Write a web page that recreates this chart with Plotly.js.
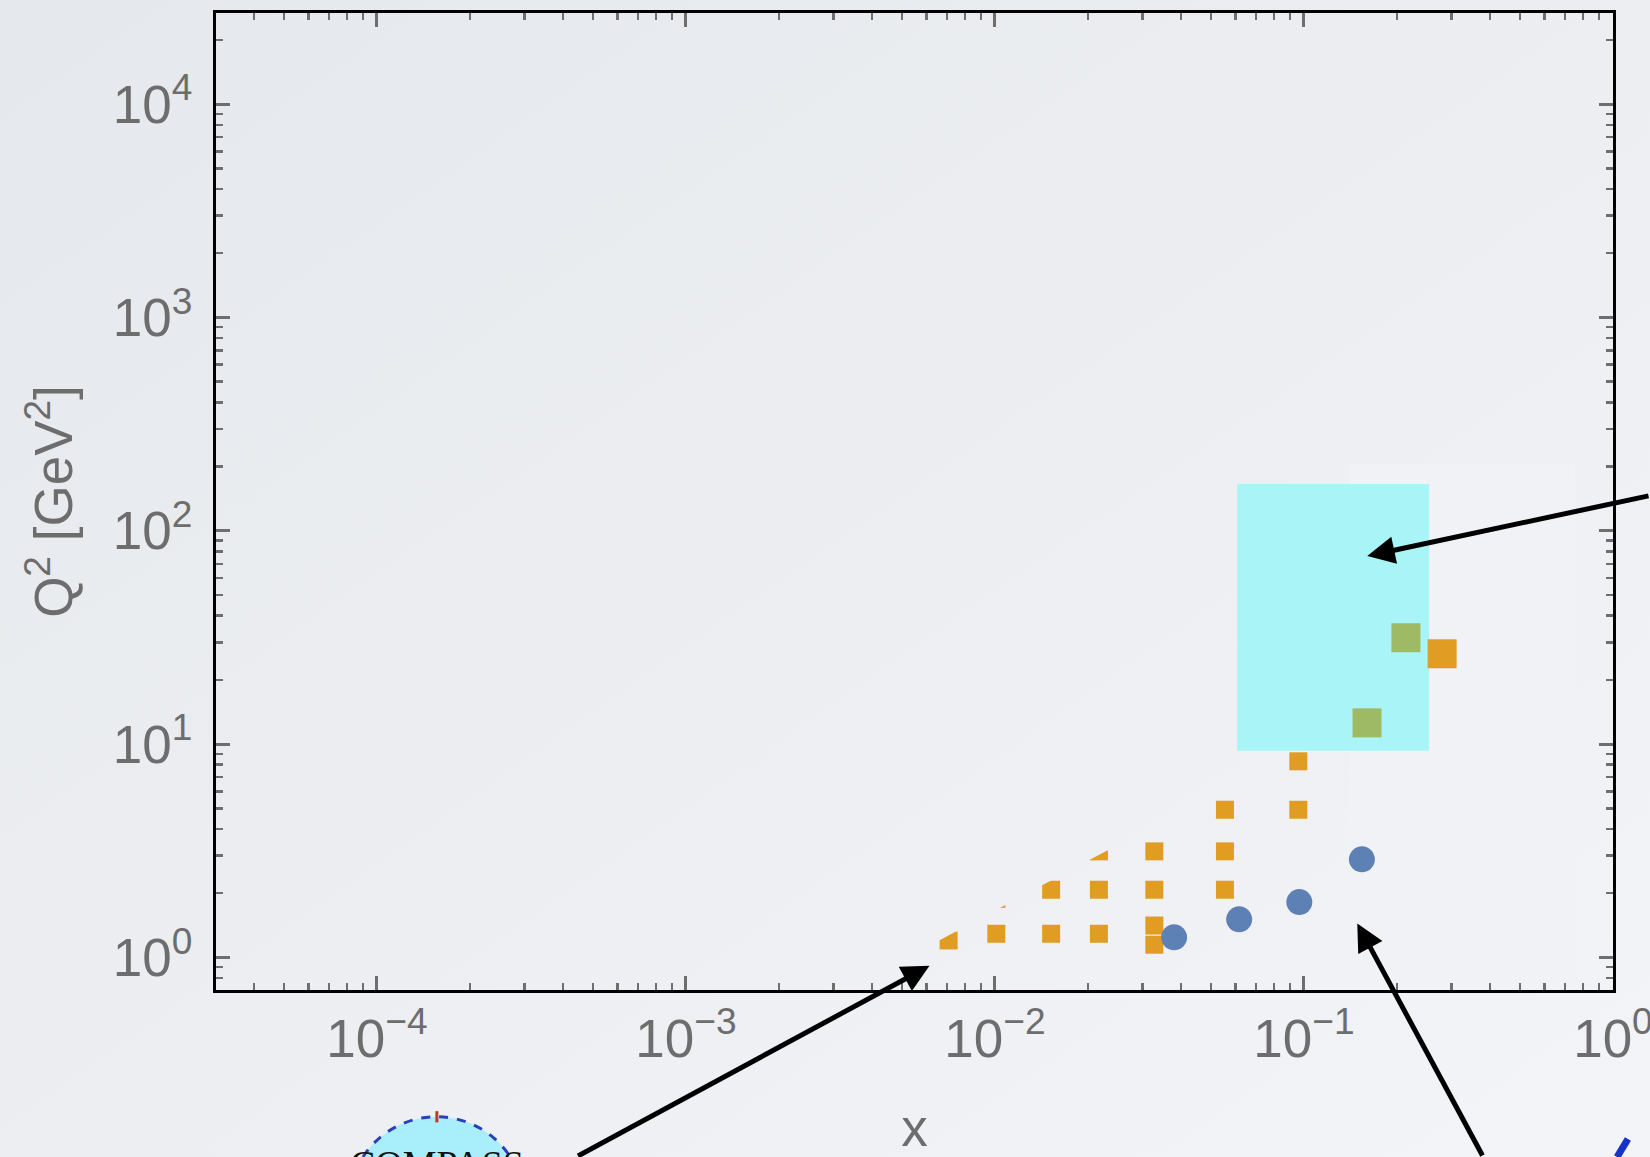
<!DOCTYPE html>
<html>
<head>
<meta charset="utf-8">
<script src="https://cdn.plot.ly/plotly-3.0.1.min.js"></script>
<style>
  html, body { margin: 0; padding: 0; }
  body { width: 1650px; height: 1157px; overflow: hidden;
         background: linear-gradient(to bottom right, #e5e8ec, #f3f4f7); }
  #chart { width: 1650px; height: 1157px; }
</style>
</head>
<body>
<div id="chart"></div>
<script>
// ---- data (x, Q^2 in GeV^2) ----
const xTickVals = [1e-4, 1e-3, 1e-2, 1e-1, 1];
const xTickText = ['10<sup>−4</sup>', '10<sup>−3</sup>', '10<sup>−2</sup>', '10<sup>−1</sup>', '10<sup>0</sup>'];
const yTickVals = [1, 10, 100, 1000, 10000];
const yTickText = ['10<sup>0</sup>', '10<sup>1</sup>', '10<sup>2</sup>', '10<sup>3</sup>', '10<sup>4</sup>'];

const orangeX  = [0.00708, 0.0101, 0.0101, 0.0152, 0.0152, 0.0217, 0.0217, 0.0217, 0.0328, 0.0328, 0.0328, 0.0328, 0.0555, 0.0555, 0.0555, 0.0959, 0.0959];
const orangeQ2 = [1.20, 1.88, 1.29, 2.075, 1.29, 3.14, 2.075, 1.29, 3.14, 2.075, 1.41, 1.146, 4.92, 3.14, 2.075, 8.30, 4.92];

const orangeBigX  = [0.280];
const orangeBigQ2 = [26.5];

const greenX  = [0.2138, 0.160];
const greenQ2 = [31.5, 12.57];

const blueX  = [0.0380, 0.0617, 0.0966, 0.154];
const blueQ2 = [1.241, 1.507, 1.816, 2.88];

// cyan kinematic region
const cyanBoxX  = [0.0608, 0.2543];
const cyanBoxQ2 = [9.30, 165.5];

// overlay cut boundary (pasted-figure clipping) in (x, Q^2)
const cutX  = [0.005718, 0.02634, 0.005718];
const cutQ2 = [1.074, 3.51, 3.51];

// arrow heads (x, Q^2) and tail offsets in px
const arrowHeadX  = [0.00614, 0.1603, 0.1488];
const arrowHeadQ2 = [0.913, 76.1, 1.443];
const arrowTailDx = [-353, 300, 126];
const arrowTailDy = [191, -60.5, 234];

// ---- traces ----
const traces = [
  {
    type: 'scatter', mode: 'lines', fill: 'toself',
    x: [cyanBoxX[0], cyanBoxX[1], cyanBoxX[1], cyanBoxX[0], cyanBoxX[0]],
    y: [cyanBoxQ2[0], cyanBoxQ2[0], cyanBoxQ2[1], cyanBoxQ2[1], cyanBoxQ2[0]],
    fillcolor: '#a8f4f7', line: {width: 0}, hoverinfo: 'skip', showlegend: false
  },
  {
    type: 'scatter', mode: 'markers', x: orangeX, y: orangeQ2,
    marker: {symbol: 'square', size: 18, color: '#e19c24', line: {width: 0}},
    showlegend: false, cliponaxis: false
  },
  {
    type: 'scatter', mode: 'markers', x: orangeBigX, y: orangeBigQ2,
    marker: {symbol: 'square', size: 29, color: '#e19c24', line: {width: 0}},
    showlegend: false
  },
  {
    type: 'scatter', mode: 'lines', fill: 'toself', x: cutX, y: cutQ2,
    fillcolor: '#eef0f3', line: {width: 0}, hoverinfo: 'skip', showlegend: false
  },
  {
    type: 'scatter', mode: 'markers', x: greenX, y: greenQ2,
    marker: {symbol: 'square', size: 29, color: '#9fba64', line: {width: 0}},
    showlegend: false
  },
  {
    type: 'scatter', mode: 'markers', x: blueX, y: blueQ2,
    marker: {symbol: 'circle', size: 26, color: '#5e81b5', line: {width: 0}},
    showlegend: false
  }
];

const tickFont = {family: 'Liberation Sans, Arial, sans-serif', size: 53, color: '#6d6d6d'};
const axisCommon = {
  type: 'log', showgrid: false, zeroline: false,
  showline: true, linecolor: '#000000', linewidth: 3, mirror: 'allticks',
  ticks: 'inside', ticklen: 14, tickwidth: 3, tickcolor: '#6e6e6e',
  tickmode: 'array', tickfont: tickFont, ticklabeloverflow: 'allow',
  minor: {ticks: 'inside', ticklen: 7, tickwidth: 2.5, tickcolor: '#6e6e6e', dtick: 'D1', showgrid: false}
};

const annotations = arrowHeadX.map((hx, i) => ({
  x: Math.log10(hx), y: Math.log10(arrowHeadQ2[i]), xref: 'x', yref: 'y',
  ax: arrowTailDx[i], ay: arrowTailDy[i], axref: 'pixel', ayref: 'pixel',
  text: '', showarrow: true, arrowhead: 2, arrowsize: 1.1, arrowwidth: 5,
  arrowcolor: '#000000', standoff: 0, startstandoff: 0
}));
annotations.push({
  text: 'COMPASS', xref: 'paper', yref: 'paper', x: 0.1582, y: -0.1546,
  xanchor: 'center', yanchor: 'top', showarrow: false,
  font: {family: 'Liberation Serif, Times New Roman, serif', size: 38, color: '#111111'}
});

const layout = {
  width: 1650, height: 1157,
  margin: {l: 216, r: 37, t: 13, b: 167, pad: 0},
  paper_bgcolor: 'rgba(0,0,0,0)', plot_bgcolor: 'rgba(0,0,0,0)',
  showlegend: false,
  xaxis: Object.assign({}, axisCommon, {
    range: [-4.521, 0.0002], tickvals: xTickVals, ticktext: xTickText,
    ticklabelstandoff: 0,
    title: {text: 'x', font: {family: 'Liberation Sans, Arial, sans-serif', size: 53, color: '#6d6d6d'}, standoff: 48}
  }),
  yaxis: Object.assign({}, axisCommon, {
    range: [-0.153, 4.427], tickvals: yTickVals, ticktext: yTickText,
    ticklabelstandoff: 10,
    title: {text: 'Q<sup>2</sup> [GeV<sup>2</sup>]', font: {family: 'Liberation Sans, Arial, sans-serif', size: 53, color: '#6d6d6d'}, standoff: 24}
  }),
  shapes: [
    {type: 'rect', xref: 'paper', yref: 'paper', x0: 0.8117, x1: 0.9728, y0: 0.0, y1: 0.5384,
     fillcolor: '#f1f2f5', line: {width: 0}, layer: 'below'},
    {type: 'circle', xref: 'paper', yref: 'paper', x0: 0.0953, x1: 0.2206, y0: -0.3086, y1: -0.1297,
     fillcolor: '#a9eefb', line: {color: '#2a3fb8', width: 3, dash: 'dash'}, layer: 'above'},
    {type: 'line', xref: 'paper', yref: 'paper', x0: 0.1581, x1: 0.1581, y0: -0.1355, y1: -0.1240,
     line: {color: '#c0392b', width: 3}},
    {type: 'line', xref: 'paper', yref: 'paper', x0: 1.0029, x1: 1.0107, y0: -0.1709, y1: -0.1525,
     line: {color: '#1533c4', width: 7}}
  ],
  annotations: annotations
};

Plotly.newPlot('chart', traces, layout, {staticPlot: true, displayModeBar: false});
</script>
</body>
</html>
